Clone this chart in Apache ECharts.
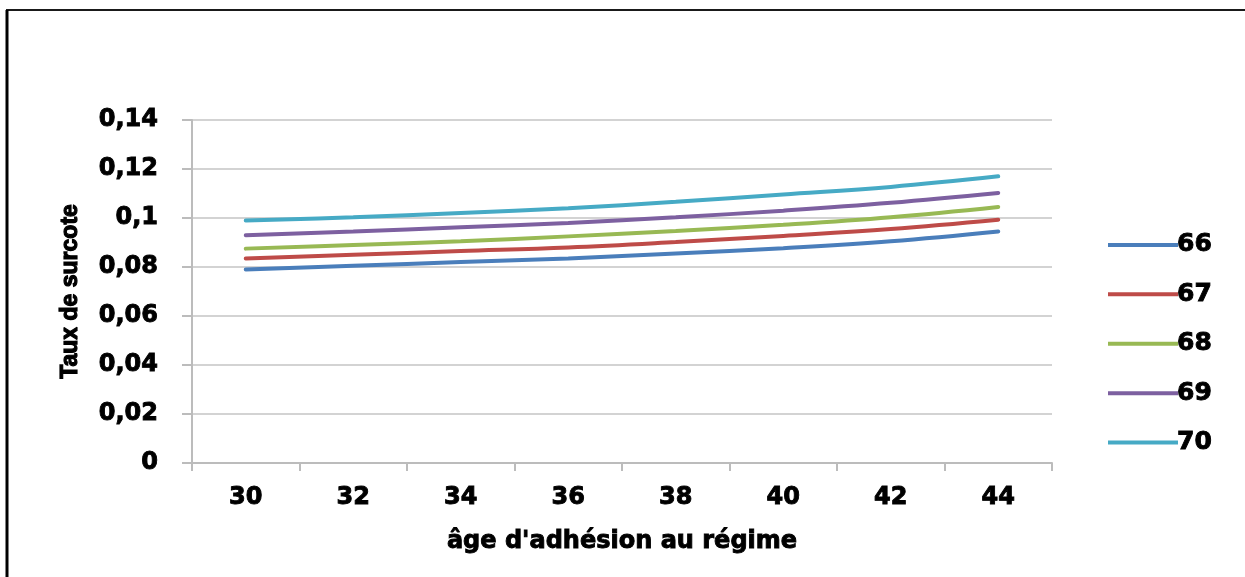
<!DOCTYPE html>
<html>
<head>
<meta charset="utf-8">
<script src="https://cdn.jsdelivr.net/npm/echarts@6/dist/echarts.min.js"></script>
<style>
  html, body { margin: 0; padding: 0; background: #fff; }
  #chart { width: 1245px; height: 577px; }
</style>
</head>
<body>
<div id="chart"></div>
<script>
// Ages d'adhésion (axe des abscisses)
const ages = ['30', '32', '34', '36', '38', '40', '42', '44'];

// Taux de surcote par âge de départ
const taux66 = [0.079, 0.0805, 0.082, 0.0835, 0.0855, 0.0877, 0.0905, 0.0945];
const taux67 = [0.0835, 0.085, 0.0865, 0.088, 0.0902, 0.0927, 0.0955, 0.0993];
const taux68 = [0.0875, 0.089, 0.0905, 0.0925, 0.0947, 0.0972, 0.1003, 0.1045];
const taux69 = [0.093, 0.0945, 0.0962, 0.098, 0.1003, 0.103, 0.1062, 0.1102];
const taux70 = [0.099, 0.1003, 0.102, 0.104, 0.1066, 0.1096, 0.1127, 0.117];

const seriesNames = ['66', '67', '68', '69', '70'];
const seriesData = [taux66, taux67, taux68, taux69, taux70];
const colors = ['#4a7ebb', '#be4b48', '#98b954', '#7d60a0', '#46aac5'];

const chart = echarts.init(document.getElementById('chart'));
// heavy bold text: bold face plus a thin outline in the same colour
const tickFont = {
  fontFamily: 'DejaVu Sans', fontWeight: 'bold', fontSize: 24, color: '#000',
  textBorderColor: '#000', textBorderWidth: 0.9
};

chart.setOption({
  backgroundColor: '#fff',
  animation: false,
  color: colors,
  grid: { left: 192, right: 193, top: 120, bottom: 114 },
  legend: {
    orient: 'vertical',
    left: 1103,
    top: 227,
    itemWidth: 70,
    itemHeight: 4,
    itemGap: 23.5,
    icon: 'rect',
    textStyle: Object.assign({}, tickFont, { fontSize: 25, padding: [0, 0, 0, -6] }),
    data: seriesNames
  },
  xAxis: {
    type: 'category',
    data: ages,
    boundaryGap: true,
    name: "âge d'adhésion au régime",
    nameLocation: 'middle',
    nameGap: 67,
    nameTextStyle: tickFont,
    axisLine: { lineStyle: { color: '#bcbcbc', width: 2 } },
    axisTick: { show: true, length: 8, lineStyle: { color: '#bcbcbc', width: 2 } },
    axisLabel: Object.assign({ margin: 23 }, tickFont)
  },
  yAxis: {
    type: 'value',
    min: 0,
    max: 0.14,
    interval: 0.02,
    name: 'Taux de surcote',
    nameLocation: 'middle',
    nameGap: 110,
    nameRotate: 90,
    nameTextStyle: {
      fontFamily: 'Liberation Sans', fontWeight: 'bold', fontSize: 23, color: '#000',
      textBorderColor: '#000', textBorderWidth: 1.2
    },
    axisLine: { show: true, lineStyle: { color: '#bcbcbc', width: 2 } },
    axisTick: { show: true, length: 10, lineStyle: { color: '#bcbcbc', width: 2 } },
    splitLine: { lineStyle: { color: '#c4c4c4', width: 1.5 } },
    axisLabel: Object.assign({
      margin: 34,
      formatter: v => String(Math.round(v * 100) / 100).replace('.', ',')
    }, tickFont)
  },
  series: seriesNames.map((n, i) => ({
    name: n,
    type: 'line',
    data: seriesData[i],
    smooth: 0.4,
    symbol: 'none',
    lineStyle: { width: 4, color: colors[i], cap: 'round' }
  })),
  graphic: [
    { type: 'line', shape: { x1: 6, y1: 10, x2: 1245, y2: 10 }, style: { stroke: '#1a1a1a', lineWidth: 2 } },
    { type: 'line', shape: { x1: 7, y1: 10, x2: 7, y2: 577 }, style: { stroke: '#000', lineWidth: 3 } }
  ]
});
</script>
</body>
</html>
